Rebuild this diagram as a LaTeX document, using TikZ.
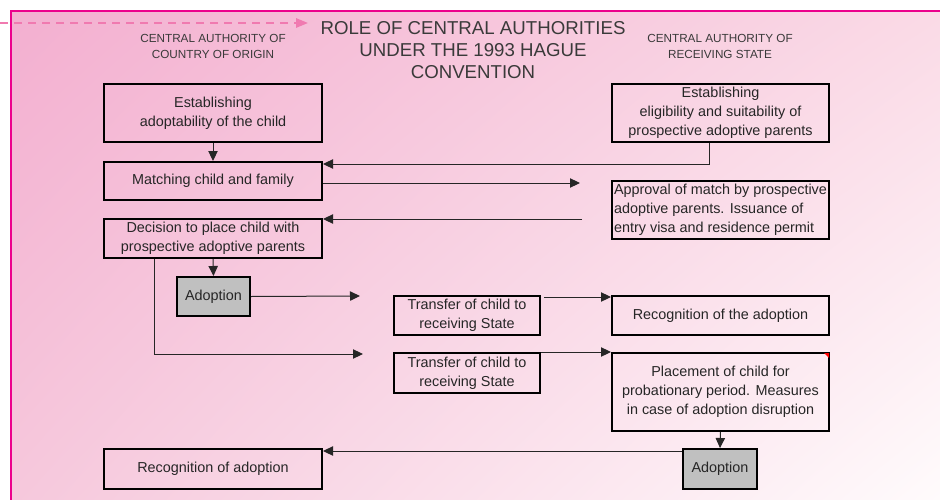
\documentclass[tikz,border=0pt]{standalone}
\usepackage{fontspec}
\setmainfont{Liberation Sans}
\usetikzlibrary{arrows.meta,shadings}
\definecolor{frameC}{HTML}{EC008C}
\definecolor{dashC}{HTML}{F07AB0}
\definecolor{txt}{HTML}{262626}
\definecolor{ttlC}{HTML}{3A3A3A}
\definecolor{gbox}{HTML}{C0C0C0}
\definecolor{bgA}{HTML}{F3AFD0}
\definecolor{bgB}{HTML}{FADAE6}
\definecolor{bgC}{HTML}{F6C8DC}
\definecolor{bgD}{HTML}{FFFBFC}
\tikzset{
  bx/.style={draw=black, line width=1.5pt, inner sep=1pt, align=center, text=txt,
             font=\fontsize{10.8}{14.3}\selectfont},
  graybox/.style={bx, fill=gbox},
  arr/.style={draw=txt, line width=0.75pt, -{Triangle[length=7.5pt,width=7pt]}},
  hdr/.style={text=ttlC, align=center, font=\fontsize{8.8}{12}\selectfont},
  ttl/.style={text=ttlC, align=center, font=\fontsize{14}{16.2}\selectfont},
}
\begin{document}
\begin{tikzpicture}[x=0.75pt,y=-0.75pt]
\useasboundingbox (0,0) rectangle (940,500);
\shade[upper left=bgA, upper right=bgB, lower left=bgC, lower right=bgD] (11,11) rectangle (940,500);
\draw[frameC, line width=1.5pt] (11,500) -- (11,11) -- (940,11);

% dashed arrow
\coordinate (d0) at (0,23);
\coordinate (d1) at (308,23);
\draw[dashC, line width=1.5pt, dash pattern=on 6pt off 4.5pt, -{Triangle[length=9pt,width=7pt]}] (d0) -- (d1);

% titles
\node[ttl] (title) at (473,50) {ROLE OF CENTRAL AUTHORITIES\\UNDER THE 1993 HAGUE\\CONVENTION};
\node[hdr] (hL) at (213,46) {CENTRAL AUTHORITY OF\\COUNTRY OF ORIGIN};
\node[hdr] (hR) at (720,46) {CENTRAL AUTHORITY OF\\RECEIVING STATE};

% boxes
\node[bx, minimum width=163.5pt, minimum height=43.5pt] (b1) at (213,113) {Establishing\\adoptability of the child};
\node[bx, minimum width=162.75pt, minimum height=43.5pt] (b2) at (720.5,113) {Establishing\\eligibility and suitability of\\prospective adoptive parents};
\node[bx, minimum width=163.5pt, minimum height=28.5pt] (b3) at (213,181) {Matching child and family};
\node[bx, minimum width=163.5pt, minimum height=29.25pt] (b4) at (213,238.5) {Decision to place child with\\prospective adoptive parents};
\node[graybox, minimum width=54.75pt, minimum height=29.25pt] (ad1) at (213.5,296.5) {Adoption};
\node[bx, minimum width=162.75pt, minimum height=43.5pt, align=left, inner xsep=0.5pt] (appr) at (720.5,210) {Approval of match by prospective\\adoptive parents. Issuance of\\entry visa and residence permit};
\node[bx, minimum width=109.5pt, minimum height=29.25pt] (tr1) at (467,315.5) {Transfer of child to\\receiving State};
\node[bx, minimum width=109.5pt, minimum height=30pt] (tr2) at (467,373) {Transfer of child to\\receiving State};
\node[bx, minimum width=162.75pt, minimum height=29.25pt] (rec1) at (720.5,315.5) {Recognition of the adoption};
\node[bx, minimum width=162.75pt, minimum height=58.5pt] (place) at (720.5,392) {Placement of child for\\probationary period. Measures\\in case of adoption disruption};
\fill[red] ([xshift=-0.75pt,yshift=-0.75pt]place.north east) -- ++(-5,0) -- ++(5,5) -- cycle;
\node[graybox, minimum width=55.5pt, minimum height=30pt] (ad2) at (720,469) {Adoption};
\node[bx, minimum width=163.5pt, minimum height=30pt] (rec2) at (213,469) {Recognition of adoption};

% free ends
\coordinate (c1) at (580,183);
\coordinate (c2) at (582,219);
\coordinate (c3) at (360,296);
\coordinate (c4) at (363,354);

% connectors
\draw[arr] (b1.south) -- (b3.north);
\draw[arr] ([xshift=-8.25pt]b2.south) |- ([yshift=-2.25pt]b3.north east);
\draw[arr] (b3.east |- c1) -- (c1);
\draw[arr] (c2) -- (c2 -| b4.east);
\draw[arr] (b4.south) -- (ad1.north);
\draw[arr] (ad1.east) -- (c3);
\draw[arr] ([xshift=38.25pt]b4.south west) |- (c4);
\draw[arr] ([xshift=2.25pt,yshift=-1.5pt]tr1.north east) -- ([yshift=-1.5pt]rec1.north west);
\draw[arr] (tr2.north east) -- (place.north west);
\draw[arr] (place.south) -- (ad2.north);
\draw[arr] ([yshift=-2.25pt]ad2.north west) -- ([yshift=-2.25pt]rec2.north east);
\end{tikzpicture}
\end{document}
